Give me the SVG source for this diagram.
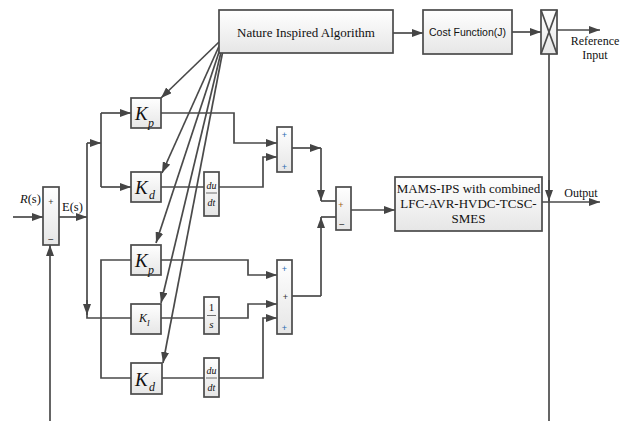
<svg xmlns="http://www.w3.org/2000/svg" width="629" height="421" viewBox="0 0 629 421">
<defs>
<linearGradient id="g" x1="0" y1="0" x2="0" y2="1">
<stop offset="0" stop-color="#ffffff"/>
<stop offset="1" stop-color="#e6e6e6"/>
</linearGradient>
<marker id="a" markerUnits="userSpaceOnUse" markerWidth="11" markerHeight="8" refX="11" refY="4" orient="auto">
<path d="M0,0 L11,4 L0,8 z" fill="#454545"/>
</marker>
</defs>
<style>
.b{fill:url(#g);stroke:#4a4a4a;stroke-width:1.7}
.l{fill:none;stroke:#4a4a4a;stroke-width:1.7}
.la{fill:none;stroke:#4a4a4a;stroke-width:1.7;marker-end:url(#a)}
.t{font-family:"Liberation Serif",serif;fill:#111;font-size:12.5px}
.s{font-family:"Liberation Sans",sans-serif;fill:#111;font-size:10.5px}
.k{font-family:"Liberation Serif",serif;font-style:italic;fill:#111}
.pl{font-family:"Liberation Sans",sans-serif;fill:#2b6cb0;font-size:9px}
.mn{font-family:"Liberation Sans",sans-serif;fill:#333;font-size:10px}
</style>

<g id="connectors">
<path class="la" d="M393,33 H423"/>
<path class="la" d="M512,32 H541"/>
<path class="la" d="M557,30 H600"/>
<path class="l" d="M549,54 V421"/>
<path class="la" d="M549,180 V201"/>
<path class="la" d="M542,202 H600"/>
<path class="la" d="M219,42 L161,98"/>
<path class="la" d="M220,44 L162,173"/>
<path class="la" d="M221,46 L156,243"/>
<path class="la" d="M222,48 L161,303"/>
<path class="la" d="M223,50 L163,363"/>
<path class="la" d="M13,217 H43"/>
<path class="la" d="M59,217 H87"/>
<path class="l" d="M87,143 V318 H131"/>
<path class="la" d="M87,300 V315"/>
<path class="la" d="M87,143 H101"/>
<path class="l" d="M101,113 V187"/>
<path class="la" d="M101,113 H131"/>
<path class="la" d="M101,187 H131"/>
<path class="l" d="M131,260 H101 V378 H131"/>
<path class="la" d="M50,421 V245"/>
<path class="la" d="M161,113 H234 V143 H277"/>
<path class="l" d="M161,187 H204"/>
<path class="la" d="M219,187 H263 V157 H277"/>
<path class="la" d="M161,260 H248 V275 H277"/>
<path class="l" d="M161,318 H204"/>
<path class="la" d="M219,318 H248 V304 H277"/>
<path class="l" d="M162,378 H204"/>
<path class="la" d="M219,378 H263 V318 H277"/>
<path class="la" d="M292,148 H321"/>
<path class="la" d="M321,148 V201"/>
<path class="l" d="M321,201 H336"/>
<path class="l" d="M292,296 H321"/>
<path class="la" d="M321,296 V217"/>
<path class="l" d="M321,217 H336"/>
<path class="la" d="M351,210 H395"/>
</g>

<g id="nia">
<rect class="b" x="219" y="10" width="174" height="43"/>
<text class="t" x="306" y="37" text-anchor="middle" style="font-size:13px">Nature Inspired Algorithm</text>
</g>
<g id="cost">
<rect class="b" x="423" y="10" width="89" height="44"/>
<text class="s" x="467.5" y="36" text-anchor="middle">Cost Function(J)</text>
</g>
<g id="mult">
<rect class="b" x="541" y="10" width="16" height="44"/>
<path class="l" d="M541,10 L557,54 M557,10 L541,54"/>
</g>
<g id="refinput">
<text class="t" x="595" y="45" text-anchor="middle" style="font-size:12px">Reference</text>
<text class="t" x="595" y="59" text-anchor="middle" style="font-size:12px">Input</text>
</g>
<g id="output">
<text class="t" x="581" y="197" text-anchor="middle" style="font-size:12px">Output</text>
</g>
<g id="mams">
<rect class="b" x="395" y="177" width="147" height="54"/>
<text class="t" x="468.5" y="193" text-anchor="middle" style="font-size:13px">MAMS-IPS with combined</text>
<text class="t" x="468.5" y="208" text-anchor="middle" style="font-size:13px">LFC-AVR-HVDC-TCSC-</text>
<text class="t" x="468.5" y="223" text-anchor="middle" style="font-size:13px">SMES</text>
</g>

<g id="sum0">
<rect class="b" x="43" y="187" width="16" height="58"/>
<text class="pl" x="51" y="205" text-anchor="middle" style="fill:#333">+</text>
<text class="mn" x="51" y="243" text-anchor="middle">−</text>
<text class="t" x="20" y="203"><tspan font-style="italic">R</tspan>(s)</text>
<text class="t" x="62" y="211">E(s)</text>
</g>

<g id="kp1">
<rect class="b" x="131" y="98" width="30" height="30"/>
<text class="k" x="135" y="120" style="font-size:19px">K</text>
<text class="k" x="148" y="127" style="font-size:12px">p</text>
</g>
<g id="kd1">
<rect class="b" x="131" y="172" width="30" height="30"/>
<text class="k" x="135" y="194" style="font-size:19px">K</text>
<text class="k" x="149" y="199" style="font-size:12px">d</text>
</g>
<g id="dudt1">
<rect class="b" x="204" y="172" width="15" height="44"/>
<text class="k" x="211.5" y="189" text-anchor="middle" style="font-size:10px">du</text>
<path class="l" d="M206,193 H217" style="stroke-width:0.8"/>
<text class="k" x="211.5" y="206" text-anchor="middle" style="font-size:10px">dt</text>
</g>
<g id="sum1">
<rect class="b" x="277" y="127" width="15" height="45"/>
<text class="pl" x="284.5" y="138" text-anchor="middle">+</text>
<text class="pl" x="284.5" y="170" text-anchor="middle">+</text>
</g>

<g id="kp2">
<rect class="b" x="131" y="245" width="30" height="30"/>
<text class="k" x="135" y="267" style="font-size:19px">K</text>
<text class="k" x="148" y="274" style="font-size:12px">p</text>
</g>
<g id="ki">
<rect class="b" x="131" y="304" width="30" height="30"/>
<text class="k" x="139" y="322" style="font-size:12px">K</text>
<text class="k" x="147" y="326" style="font-size:8px">I</text>
</g>
<g id="integ">
<rect class="b" x="204" y="297" width="15" height="37"/>
<text class="t" x="211.5" y="311" text-anchor="middle" style="font-size:11px">1</text>
<path class="l" d="M207,315.5 H216" style="stroke-width:0.8"/>
<text class="k" x="211.5" y="328" text-anchor="middle" style="font-size:11px">s</text>
</g>
<g id="kd2">
<rect class="b" x="131" y="363" width="31" height="31"/>
<text class="k" x="135" y="386" style="font-size:19px">K</text>
<text class="k" x="149" y="391" style="font-size:12px">d</text>
</g>
<g id="dudt2">
<rect class="b" x="204" y="358" width="15" height="39"/>
<text class="k" x="211.5" y="374" text-anchor="middle" style="font-size:10px">du</text>
<path class="l" d="M206,378 H217" style="stroke-width:0.8"/>
<text class="k" x="211.5" y="391" text-anchor="middle" style="font-size:10px">dt</text>
</g>
<g id="sum2">
<rect class="b" x="277" y="260" width="15" height="74"/>
<text class="pl" x="284.5" y="272" text-anchor="middle">+</text>
<text class="pl" x="285.5" y="300" text-anchor="middle" style="fill:#333">+</text>
<text class="pl" x="284.5" y="331" text-anchor="middle">+</text>
</g>
<g id="sum3">
<rect class="b" x="336" y="187" width="15" height="43"/>
<text class="pl" x="341" y="208" text-anchor="middle" style="fill:#a06020">+</text>
<text class="mn" x="342" y="228" text-anchor="middle">−</text>
</g>
</svg>
